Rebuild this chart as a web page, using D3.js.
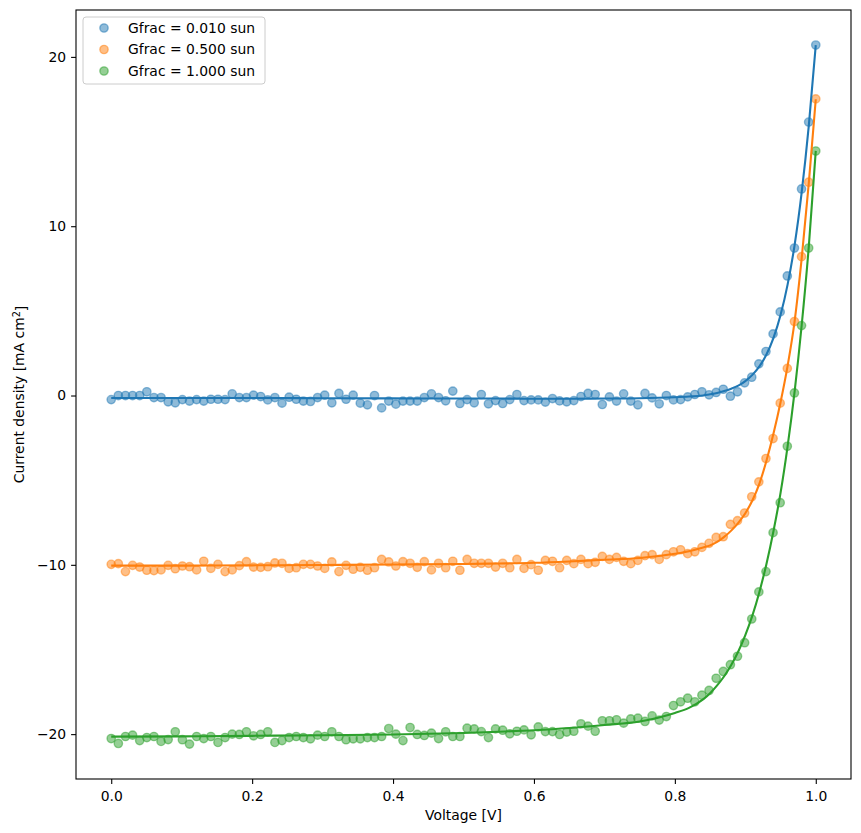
<!DOCTYPE html>
<html>
<head>
<meta charset="utf-8">
<script src="https://d3js.org/d3.v7.min.js"></script>
<style>
  body { margin: 0; background: #fff; }
  text { font-family: "DejaVu Sans", sans-serif; }
</style>
</head>
<body>
<div id="my_dataviz"></div>
<script>
// voltages of the measured points (100 points from 0 to 1 V)
const voltage = [0, 0.0101, 0.0202, 0.0303, 0.0404, 0.0505, 0.0606, 0.0707, 0.0808, 0.0909,
  0.1010, 0.1111, 0.1212, 0.1313, 0.1414, 0.1515, 0.1616, 0.1717, 0.1818, 0.1919,
  0.2020, 0.2121, 0.2222, 0.2323, 0.2424, 0.2525, 0.2626, 0.2727, 0.2828, 0.2929,
  0.3030, 0.3131, 0.3232, 0.3333, 0.3434, 0.3535, 0.3636, 0.3737, 0.3838, 0.3939,
  0.4040, 0.4141, 0.4242, 0.4343, 0.4444, 0.4545, 0.4646, 0.4747, 0.4848, 0.4949,
  0.5051, 0.5152, 0.5253, 0.5354, 0.5455, 0.5556, 0.5657, 0.5758, 0.5859, 0.5960,
  0.6061, 0.6162, 0.6263, 0.6364, 0.6465, 0.6566, 0.6667, 0.6768, 0.6869, 0.6970,
  0.7071, 0.7172, 0.7273, 0.7374, 0.7475, 0.7576, 0.7677, 0.7778, 0.7879, 0.7980,
  0.8081, 0.8182, 0.8283, 0.8384, 0.8485, 0.8586, 0.8687, 0.8788, 0.8889, 0.8990,
  0.9091, 0.9192, 0.9293, 0.9394, 0.9495, 0.9596, 0.9697, 0.9798, 0.9899, 1.0];

const measBlue = [-0.24, 0, 0, 0, 0, 0.22, -0.12, -0.12, -0.37, -0.43,
  -0.24, -0.33, -0.24, -0.33, -0.22, -0.22, -0.24, 0.1, -0.12, -0.12,
  0.02, -0.06, -0.26, -0.12, -0.45, -0.1, -0.22, -0.33, -0.35, -0.12,
  0.02, -0.43, 0.12, -0.22, 0.02, -0.45, -0.55, 0, -0.73, -0.33,
  -0.51, -0.33, -0.33, -0.33, -0.12, 0.1, -0.12, -0.31, 0.26, -0.47,
  -0.24, -0.43, 0.06, -0.49, -0.3, -0.47, -0.24, 0.06, -0.3, -0.26,
  -0.26, -0.39, -0.18, -0.32, -0.37, -0.3, -0.06, 0.12, 0.06, -0.53,
  -0.08, -0.33, 0.1, -0.33, -0.55, 0.12, -0.14, -0.49, 0, -0.26,
  -0.24, -0.08, 0.06, 0.22, 0.04, 0.18, 0.37, -0.04, 0.22, 0.75,
  1.08, 1.87, 2.6, 3.64, 4.94, 7.06, 8.71, 12.2, 16.15, 20.7];

const measOrange = [-9.97, -9.93, -10.4, -10.03, -10.13, -10.32, -10.34, -10.3, -10.03, -10.23,
  -10.07, -10.11, -10.3, -9.79, -10.21, -9.97, -10.4, -10.3, -10.05, -9.81,
  -10.13, -10.15, -10.11, -9.89, -9.91, -10.21, -10.17, -9.97, -9.97, -10.07,
  -10.21, -9.83, -10.4, -10.03, -10.26, -10.15, -10.32, -10.17, -9.68, -9.83,
  -10.07, -9.81, -9.91, -10.15, -9.81, -10.3, -9.91, -10.17, -9.79, -10.32,
  -9.68, -9.91, -9.91, -9.91, -10.13, -9.91, -10.17, -9.68, -10.21, -9.99,
  -10.32, -9.74, -9.79, -10.17, -9.74, -9.93, -9.68, -9.93, -9.85, -9.5,
  -9.68, -9.56, -9.79, -9.93, -9.74, -9.46, -9.4, -9.68, -9.4, -9.23,
  -9.11, -9.34, -9.23, -8.97, -8.73, -8.38, -8.34, -7.61, -7.39, -6.94,
  -5.98, -5.1, -3.72, -2.54, -0.45, 1.6, 4.37, 8.2, 12.6, 17.52];

const measGreen = [-20.26, -20.55, -20.14, -20.06, -20.38, -20.2, -20.14, -20.43, -20.32, -19.86,
  -20.33, -20.59, -20.14, -20.26, -20.14, -20.49, -20.2, -20.0, -20.02, -19.86,
  -20.1, -20.02, -19.86, -20.49, -20.38, -20.2, -20.14, -20.2, -20.28, -20.06,
  -20.14, -19.86, -20.14, -20.33, -20.28, -20.28, -20.2, -20.2, -20.14, -19.67,
  -20.0, -20.38, -19.61, -20.02, -20.08, -19.94, -20.26, -19.86, -20.14, -20.14,
  -19.65, -19.69, -19.85, -20.2, -19.69, -19.77, -19.98, -19.83, -19.75, -20.04,
  -19.57, -19.85, -19.85, -20.02, -19.88, -19.83, -19.39, -19.53, -19.83, -19.21,
  -19.21, -19.15, -19.35, -19.1, -19.06, -19.25, -18.92, -19.17, -18.96, -18.31,
  -18.09, -17.88, -18.09, -17.7, -17.42, -16.7, -16.3, -15.9, -15.4, -14.6,
  -13.2, -11.6, -10.4, -8.1, -6.33, -3.0, 0.15, 4.13, 8.71, 14.44];

const fitVoltage = [0, 0.1, 0.2, 0.3, 0.4, 0.5, 0.55, 0.6, 0.65, 0.7, 0.75, 0.8, 0.82, 0.84, 0.85,
  0.86, 0.87, 0.88, 0.89, 0.9, 0.91, 0.92, 0.93, 0.94, 0.95, 0.96, 0.97, 0.98, 0.99, 1.0];
const fitBlue = [-0.15, -0.15, -0.15, -0.16, -0.17, -0.18, -0.18, -0.19, -0.19, -0.18, -0.16, -0.1, -0.06, 0.0, 0.07,
  0.15, 0.26, 0.4, 0.58, 0.85, 1.22, 1.72, 2.42, 3.4, 4.75, 6.55, 8.9, 12.0, 15.9, 20.7];
const fitOrange = [-10.05, -10.05, -10.03, -10.01, -9.98, -9.95, -9.92, -9.88, -9.8, -9.7, -9.6, -9.35, -9.2, -8.98, -8.85,
  -8.65, -8.35, -7.98, -7.52, -6.95, -6.2, -5.2, -3.85, -2.25, -0.4, 1.75, 4.4, 8.1, 12.5, 17.5];
const fitGreen = [-20.15, -20.13, -20.1, -20.07, -20.02, -19.93, -19.86, -19.77, -19.64, -19.46, -19.25, -18.75, -18.45, -17.95, -17.58,
  -17.12, -16.58, -15.92, -15.12, -14.15, -13.0, -11.6, -9.95, -8.0, -5.75, -3.0, 0.25, 4.15, 8.75, 14.45];

const seriesLabels = ["Gfrac = 0.010 sun", "Gfrac = 0.500 sun", "Gfrac = 1.000 sun"];
const seriesColors = ["#1f77b4", "#ff7f0e", "#2ca02c"];
const xTicks = [0, 0.2, 0.4, 0.6, 0.8, 1.0];
const yTicks = [-20, -10, 0, 10, 20];

const margin = { top: 10, right: 10, bottom: 54, left: 76 },
  width = 861 - margin.left - margin.right,
  height = 833 - margin.top - margin.bottom;

const svg = d3.select("#my_dataviz")
  .append("svg")
  .attr("width", 861)
  .attr("height", 833);

svg.append("rect").attr("width", 861).attr("height", 833).attr("fill", "#fff");

const chartGroup = svg.append("g")
  .attr("transform", "translate(" + margin.left + "," + margin.top + ")");

const xScale = d3.scaleLinear().domain([-0.05, 1.05]).range([0, width]);
const yScale = d3.scaleLinear().domain([-22.65, 22.77]).range([height, 0]);

const fmtMinus = (d) => (d < 0 ? "\u2212" + Math.abs(d) : "" + d);

// x axis
const xAxis = chartGroup.append("g")
  .attr("transform", "translate(0," + height + ")")
  .call(d3.axisBottom(xScale).tickValues(xTicks).tickFormat(d3.format(".1f"))
    .tickSize(4.9).tickPadding(7).tickSizeOuter(0));
// y axis
const yAxis = chartGroup.append("g")
  .call(d3.axisLeft(yScale).tickValues(yTicks).tickFormat(fmtMinus)
    .tickSize(4.9).tickPadding(4.9).tickSizeOuter(0));

[xAxis, yAxis].forEach((ax) => {
  ax.select(".domain").remove();
  ax.selectAll(".tick line").attr("stroke", "#000").attr("stroke-width", 1.1);
  ax.selectAll(".tick text").attr("fill", "#000").style("font-size", "13.9px")
    .style("font-family", "DejaVu Sans");
});

const series = [measBlue, measOrange, measGreen];
const fits = [fitBlue, fitOrange, fitGreen];

// marker like matplotlib 'o': filled disc plus an edge of the same colour, both at alpha .5
function marker(sel, color) {
  sel.attr("r", 4.17)
    .attr("fill", color)
    .attr("fill-opacity", 0.5)
    .attr("stroke", color)
    .attr("stroke-opacity", 0.5)
    .attr("stroke-width", 1.39);
}

// measured points
series.forEach((vals, k) => {
  chartGroup.selectAll(".pts" + k)
    .data(vals)
    .enter()
    .append("circle")
    .attr("cx", (d, i) => xScale(voltage[i]))
    .attr("cy", (d) => yScale(d))
    .call(marker, seriesColors[k]);
});

// fitted lines
const line = d3.line()
  .x((d, i) => xScale(fitVoltage[i]))
  .y((d) => yScale(d))
  .curve(d3.curveMonotoneX);

fits.forEach((vals, k) => {
  chartGroup.append("path")
    .datum(vals)
    .attr("d", line)
    .attr("fill", "none")
    .attr("stroke", seriesColors[k])
    .attr("stroke-width", 2.1);
});

// frame
chartGroup.append("rect")
  .attr("width", width)
  .attr("height", height)
  .attr("fill", "none")
  .attr("stroke", "#000")
  .attr("stroke-width", 1.1);

// legend
const legend = chartGroup.append("g").attr("transform", "translate(7,7)");
legend.append("rect")
  .attr("width", 182)
  .attr("height", 67)
  .attr("rx", 3)
  .attr("fill", "#fff")
  .attr("fill-opacity", 0.8)
  .attr("stroke", "#ccc")
  .attr("stroke-width", 1);

seriesLabels.forEach((lab, k) => {
  const row = legend.append("g").attr("transform", "translate(0," + (11 + k * 21.5) + ")");
  row.append("circle")
    .attr("cx", 21)
    .call(marker, seriesColors[k]);
  row.append("text")
    .attr("x", 45)
    .attr("dy", "0.35em")
    .style("font-size", "13.9px")
    .text(lab);
});

// axis labels
svg.append("text")
  .attr("x", margin.left + width / 2)
  .attr("y", 820)
  .attr("text-anchor", "middle")
  .style("font-size", "13.9px")
  .text("Voltage [V]");

const yLab = svg.append("text")
  .attr("transform", "translate(24," + (margin.top + height / 2) + ") rotate(-90)")
  .attr("text-anchor", "middle")
  .style("font-size", "13.9px");
yLab.append("tspan").text("Current density [mA cm");
yLab.append("tspan").attr("dy", "-0.45em").style("font-size", "9.7px").text("2");
yLab.append("tspan").attr("dy", "0.45em").text("]");
</script>
</body>
</html>
